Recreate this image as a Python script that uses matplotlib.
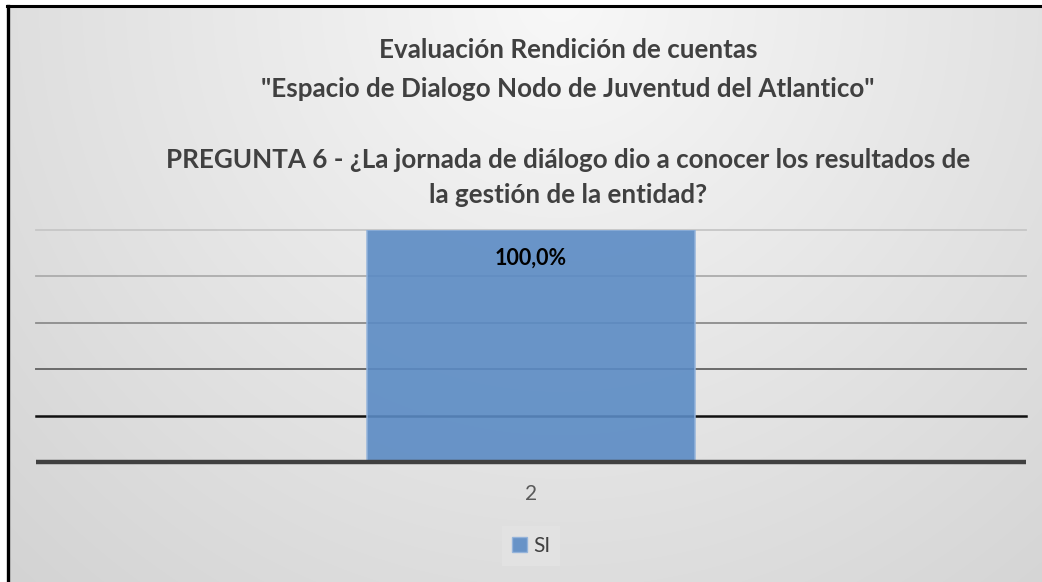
import numpy as np
import matplotlib
matplotlib.use("Agg")
import matplotlib.pyplot as plt
from matplotlib.patches import Patch

# ---- data ----
categories = ["2"]
series_name = "SI"
values = [1.0]
value_labels = ["100,0%"]
grid_values = [0.2, 0.4, 0.6, 0.8, 1.0]
title_lines = [
    "Evaluación Rendición de cuentas",
    "\"Espacio de Dialogo Nodo de Juventud del Atlantico\"",
    "",
    "PREGUNTA 6 - ¿La jornada de diálogo dio a conocer los resultados de",
    "la gestión de la entidad?",
]

plt.rcParams['font.family'] = ['Lato', 'DejaVu Sans']

W, H = 1042, 582
fig = plt.figure(figsize=(W / 100, H / 100), dpi=100)

# background gradient
bg = fig.add_axes([0, 0, 1, 1], zorder=-10)
yy, xx = np.mgrid[0:H, 0:W]
d = np.sqrt((xx - 560.0) ** 2 + (yy - 0.0) ** 2)
g = (248 - 0.046 * d) / 255.0
img = np.dstack([g, g, g])
img[:6, :, :] = 1.0
img[:, :7, :] = 1.0
bg.imshow(img, extent=[0, W, H, 0], aspect='auto', interpolation='bilinear')
bg.plot([7, W], [6, 6], color='black', lw=2.2)
bg.plot([7.5, 7.5], [6, H], color='black', lw=2.4)
bg.set_xlim(0, W)
bg.set_ylim(H, 0)
bg.axis('off')

# main axes
left, right, top, bottom = 36, 1026, 230, 462
ax = fig.add_axes([left / W, 1 - bottom / H, (right - left) / W, (bottom - top) / H])
ax.set_facecolor('none')
for s in ax.spines.values():
    s.set_visible(False)

grid_colors = ['#c6c6c6', '#acacac', '#8c8c8c', '#6a6a6a', '#111111']
grid_widths = [1.3, 1.3, 1.3, 1.4, 1.8]
for gv, c, lw in zip(grid_values[::-1], grid_colors, grid_widths):
    ax.axhline(gv, color=c, lw=lw, zorder=1, clip_on=False)
ax.axhline(0, color='#404040', lw=3.2, zorder=3, clip_on=False, solid_capstyle='butt')

x = np.arange(len(categories))
bars = ax.bar(x, values, width=0.331, color='#5b8bc4', alpha=0.9,
              edgecolor='#93b3db', linewidth=1.2, zorder=2, label=series_name)
for b, lab in zip(bars, value_labels):
    ax.text(b.get_x() + b.get_width() / 2, b.get_height() - 0.12, lab,
            ha='center', va='center', fontsize=15.5, fontweight='bold',
            color='black', zorder=4)

ax.set_xlim(-0.5, 0.5)
ax.set_ylim(0, 1.0)
ax.set_yticks([])
ax.set_xticks(x)
ax.set_xticklabels(categories, fontsize=15, color='#595959')
ax.tick_params(axis='x', length=0, pad=16)

# titles
tkw = dict(ha='center', va='center', fontsize=18.7, fontweight='bold', color='#404040')
fig.text(568 / W, 1 - 50 / H, title_lines[0], **tkw)
fig.text(568 / W, 1 - 89 / H, title_lines[1], **tkw)
fig.text(568 / W, 1 - 160 / H, title_lines[3], **tkw)
fig.text(568 / W, 1 - 195 / H, title_lines[4], **tkw)

# legend
handles = [Patch(facecolor='#5b8bc4', edgecolor='#93b3db', alpha=0.9, label=series_name)]
leg = fig.legend(handles=handles, loc='center', bbox_to_anchor=(531 / W, 1 - 546 / H),
                 frameon=True, fontsize=15, handlelength=0.7, handleheight=0.7,
                 handletextpad=0.3, borderpad=0.5, fancybox=False)
leg.get_frame().set_facecolor('#e4e4e4')
leg.get_frame().set_edgecolor('none')
for t in leg.get_texts():
    t.set_color('#404040')

fig.savefig('out.png', dpi=100)
